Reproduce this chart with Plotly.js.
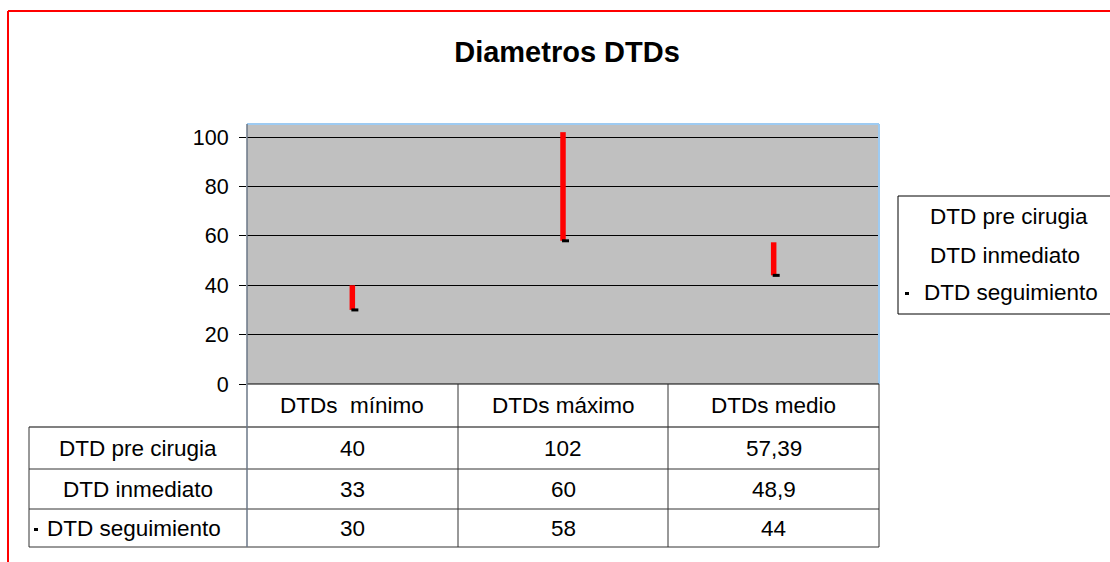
<!DOCTYPE html>
<html>
<head>
<meta charset="utf-8">
<script src="https://cdn.plot.ly/plotly-3.0.1.min.js"></script>
<style>html,body{margin:0;padding:0;background:#fff;}#chart{width:1110px;height:562px;}</style>
</head>
<body>
<div id="chart"></div>
<script>
// ---- data ----
const chartTitle = "Diametros DTDs";
const categories = ["DTDs  mínimo", "DTDs máximo", "DTDs medio"];
const seriesNames = ["DTD pre cirugia", "DTD inmediato", "DTD seguimiento"];
const preCirugia = [40, 102, 57.39];
const inmediato = [33, 60, 48.9];
const seguimiento = [30, 58, 44];
const yTicks = [0, 20, 40, 60, 80, 100];

// ---- layout helpers ----
const W = 1110, H = 562;
const px = x => x / W;
const py = y => 1 - y / H;
const FONT = "Liberation Sans, Arial, sans-serif";
const FS = 22.5;

const plotL = 247, plotR = 879, plotT = 124, plotB = 384;
const rowLines = [427, 469, 509, 547];
const tableLeft = 29;
const colLines = [458, 668];

const seriesValues = [preCirugia, inmediato, seguimiento];

// high-low lines
const hlX = [], hlY = [];
categories.forEach((c, i) => {
  const vals = seriesValues.map(s => s[i]);
  hlX.push(i, i, null);
  hlY.push(Math.max(...vals), Math.min(...vals), null);
});

const traces = [
  {
    type: "scatter", mode: "lines", x: hlX, y: hlY,
    line: { color: "#ff0000", width: 5.5 }, hoverinfo: "skip", showlegend: false
  },
  {
    type: "scatter", mode: "markers",
    x: categories.map((c, i) => i + 0.012), y: seguimiento,
    marker: { symbol: "line-ew", size: 5, color: "#000", line: { color: "#000", width: 3 } },
    name: seriesNames[2], showlegend: false
  }
];

const shapes = [];
const annotations = [];
const line = (x0, y0, x1, y1, color, width) => shapes.push({
  type: "line", xref: "paper", yref: "paper",
  x0: px(x0), y0: py(y0), x1: px(x1), y1: py(y1),
  line: { color: color, width: width }
});

// red outer frame
line(8, 11, W + 5, 11, "#ff0000", 2);
line(8, 11, 8, H + 5, "#ff0000", 2);

// plot top/right light blue border
line(plotL, plotT, plotR, plotT, "#9ecbf2", 2);
line(plotR, plotT, plotR, plotB, "#9ecbf2", 2);

// table lines
line(plotL, plotB, plotR, plotB, "#000", 1);
line(tableLeft, rowLines[0], plotR, rowLines[0], "#808080", 2);
for (let k = 1; k < rowLines.length; k++) line(tableLeft, rowLines[k], plotR, rowLines[k], "#333", 1);
line(tableLeft, rowLines[0], tableLeft, rowLines[3], "#333", 1);
line(plotL, plotT, plotL, rowLines[3], "#6b7787", 1.5);
colLines.forEach(x => line(x, plotB, x, rowLines[3], "#333", 1));
line(plotR, plotB, plotR, rowLines[3], "#333", 1);

const txt = (x, xref, y, text, anchor) => annotations.push({
  x: x, xref: xref, y: py(y), yref: "paper", text: text, showarrow: false,
  xanchor: anchor || "center", yanchor: "middle",
  font: { family: FONT, size: FS, color: "#000" }
});

// header categories
categories.forEach((c, i) => txt(i, "x", (plotB + rowLines[0]) / 2, c));
// row labels and values
const fmt = v => String(v).replace(".", ",");
seriesNames.forEach((n, r) => {
  const yc = (rowLines[r] + rowLines[r + 1]) / 2;
  if (r === 2) {
    txt(px(45), "paper", yc, n, "left");
    shapes.push({ type: "rect", xref: "paper", yref: "paper",
      x0: px(34), x1: px(38), y0: py(yc + 3), y1: py(yc), fillcolor: "#000", line: { width: 0 } });
  } else {
    txt(px((tableLeft + plotL) / 2), "paper", yc, n);
  }
  seriesValues[r].forEach((v, i) => txt(i, "x", yc, fmt(v)));
});

// legend box
shapes.push({ type: "rect", xref: "paper", yref: "paper",
  x0: px(898), x1: px(W + 10), y0: py(314), y1: py(196),
  line: { color: "#000", width: 1 }, fillcolor: "rgba(0,0,0,0)" });
const legY = [216, 255, 292];
seriesNames.forEach((n, r) => {
  txt(px(r === 2 ? 922 : 928), "paper", legY[r], n, "left");
});
shapes.push({ type: "rect", xref: "paper", yref: "paper",
  x0: px(905), x1: px(909), y0: py(legY[2] + 3), y1: py(legY[2]), fillcolor: "#000", line: { width: 0 } });

const layout = {
  width: W, height: H,
  margin: { l: 0, r: 0, t: 0, b: 0 },
  paper_bgcolor: "#ffffff",
  plot_bgcolor: "#c0c0c0",
  showlegend: false,
  title: {
    text: "<b>" + chartTitle + "</b>",
    x: px(567), xanchor: "center", y: py(52), yanchor: "middle",
    font: { family: FONT, size: 29, color: "#000" }
  },
  xaxis: {
    domain: [px(plotL), px(plotR)], range: [-0.5, 2.5],
    showticklabels: false, showgrid: false, zeroline: false, showline: false, fixedrange: true
  },
  yaxis: {
    domain: [py(plotB), py(plotT)], range: [0, 105.3],
    tickvals: yTicks, ticktext: yTicks.map(String),
    ticks: "outside", ticklen: 7, tickcolor: "#000", tickwidth: 1,
    ticklabelstandoff: 6,
    showgrid: true, gridcolor: "#000", gridwidth: 1,
    zeroline: false, showline: false,
    tickfont: { family: FONT, size: 21.5, color: "#000" }, fixedrange: true
  },
  shapes: shapes,
  annotations: annotations
};

Plotly.newPlot("chart", traces, layout, { displayModeBar: false, staticPlot: true });
</script>
</body>
</html>
